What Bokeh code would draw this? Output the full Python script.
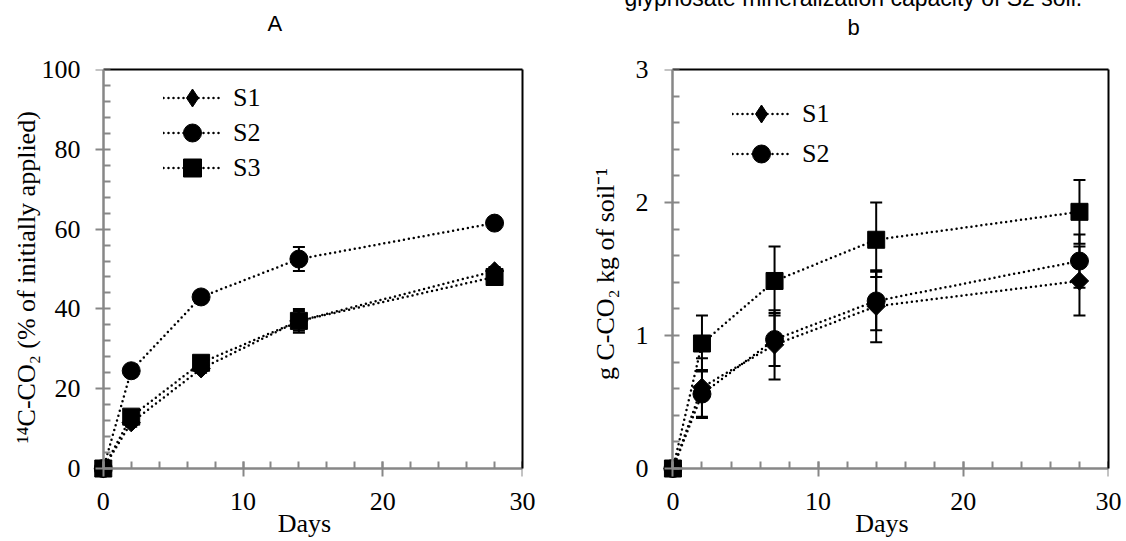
import numpy as np
from bokeh.plotting import figure
from bokeh.models import (ColumnDataSource, Whisker, TeeHead, LinearAxis, Title,
                          SingleIntervalTicker, FixedTicker, Range1d, Legend, LegendItem,
                          CustomJSTickFormatter)
from bokeh.layouts import row
from bokeh.embed import file_html
from bokeh.resources import INLINE

# ---------------- data ----------------
days = [0, 2, 7, 14, 28]

# Panel A: 14C-CO2 (% of initially applied)
a_s1 = [0, 11.5, 25.0, 37.0, 49.5]
a_s1_err = [0, 1.0, 1.0, 2.5, 1.0]
a_s2 = [0, 24.5, 43.0, 52.5, 61.5]
a_s2_err = [0, 1.0, 1.0, 3.0, 1.0]
a_s3 = [0, 13.0, 26.5, 37.0, 48.0]
a_s3_err = [0, 1.0, 1.0, 3.0, 1.0]

# Panel b: g C-CO2 kg of soil-1
b_s1 = [0, 0.61, 0.93, 1.22, 1.41]
b_s1_err = [0, 0.22, 0.26, 0.27, 0.26]
b_s2 = [0, 0.56, 0.97, 1.26, 1.56]
b_s2_err = [0, 0.18, 0.20, 0.22, 0.20]
b_s3 = [0, 0.94, 1.41, 1.72, 1.93]
b_s3_err = [0, 0.21, 0.26, 0.28, 0.24]

series_names = ["S1", "S2", "S3"]
title_a = "A"
title_b = "b"
title_b_top = "glyphosate mineralization capacity of S2 soil."

SERIF = "Liberation Serif"
SANS = "Liberation Sans"
AXIS_GRAY = "#878787"
FS = "26px"


def style_axes(p, xint, yint, ytop, ylabel, ytick_standoff, ylabel_standoff):
    # label-only axes at the frame edges
    xa = p.xaxis[0]
    ya = p.yaxis[0]
    xa.ticker = SingleIntervalTicker(interval=xint, num_minor_ticks=5)
    ya.ticker = SingleIntervalTicker(interval=yint, num_minor_ticks=5)
    for ax in (xa, ya):
        ax.axis_line_color = None
        ax.major_tick_line_color = None
        ax.minor_tick_line_color = None
        ax.major_tick_in = 0
        ax.major_tick_out = 0
        ax.minor_tick_in = 0
        ax.minor_tick_out = 0
        ax.major_label_text_font = SERIF
        ax.major_label_text_font_style = "normal"
        ax.major_label_text_font_size = FS
        ax.major_label_text_color = "black"
        ax.axis_label_text_font = SERIF
        ax.axis_label_text_font_size = FS
        ax.axis_label_text_font_style = "normal"
        ax.axis_label_text_color = "black"
    xa.major_label_standoff = 14
    ya.major_label_standoff = ytick_standoff
    xa.axis_label = "Days"
    xa.axis_label_standoff = -4
    ya.axis_label = ylabel
    ya.axis_label_standoff = ylabel_standoff

    # gray axis lines with ticks, crossing at the origin
    blank = CustomJSTickFormatter(code="return ''")
    gx = LinearAxis(ticker=SingleIntervalTicker(interval=xint, num_minor_ticks=5),
                    fixed_location=0, bounds=(0, 30), formatter=blank,
                    major_tick_in=7, major_tick_out=8, minor_tick_in=7, minor_tick_out=0)
    gy = LinearAxis(ticker=SingleIntervalTicker(interval=yint, num_minor_ticks=5),
                    fixed_location=0, bounds=(0, ytop), formatter=blank,
                    major_tick_in=0, major_tick_out=8, minor_tick_in=7, minor_tick_out=0)
    for ax in (gx, gy):
        ax.axis_line_color = AXIS_GRAY
        ax.axis_line_width = 2.5
        ax.major_tick_line_color = AXIS_GRAY
        ax.minor_tick_line_color = AXIS_GRAY
        ax.major_tick_line_width = 2
        ax.minor_tick_line_width = 2
    p.add_layout(gx, "below")
    p.add_layout(gy, "left")

    # black frame lines on top and right
    top = LinearAxis(ticker=FixedTicker(ticks=[]), bounds=(0, 30), formatter=blank,
                     axis_line_color="black", axis_line_width=2,
                     major_tick_out=0, major_tick_in=0, minor_tick_out=0, minor_tick_in=0)
    right = LinearAxis(ticker=FixedTicker(ticks=[]), bounds=(0, ytop), formatter=blank,
                       axis_line_color="black", axis_line_width=2,
                       major_tick_out=0, major_tick_in=0, minor_tick_out=0, minor_tick_in=0)
    p.add_layout(top, "above")
    p.add_layout(right, "right")


def draw_series(p, vals, errs, marker, size, angle=0.0):
    src = ColumnDataSource(dict(x=days, y=vals,
                                up=[v + e for v, e in zip(vals, errs)],
                                lo=[v - e for v, e in zip(vals, errs)]))
    ln = p.line("x", "y", source=src, line_color="black", line_width=2.5,
                line_dash="0 5", line_cap="round")
    w = Whisker(base="x", upper="up", lower="lo", source=src,
                line_color="black", line_width=2,
                upper_head=TeeHead(size=12, line_color="black", line_width=2),
                lower_head=TeeHead(size=12, line_color="black", line_width=2))
    p.add_layout(w)
    sc = p.scatter("x", "y", source=src, marker=marker, size=size, angle=angle,
                   fill_color="black", line_color="black")
    return ln, sc


def make_fig(width, height, borders, x_rng, y_rng):
    l, r, t, b = borders
    p = figure(width=width, height=height, title=None, toolbar_location=None,
               output_backend="svg", x_range=Range1d(*x_rng), y_range=Range1d(*y_rng),
               min_border_left=l, min_border_right=r, min_border_top=t, min_border_bottom=b)
    p.grid.visible = False
    p.outline_line_color = None
    p.background_fill_color = "white"
    p.border_fill_color = "white"
    return p


def add_legend_item(p, label, renderers, loc):
    lg = Legend(items=[LegendItem(label=label, renderers=renderers)], location=loc,
                margin=0, padding=0, spacing=0,
                glyph_width=58, glyph_height=45, label_height=45,
                label_standoff=12, label_text_font=SERIF, label_text_font_size=FS,
                label_text_font_style="normal", label_text_color="black",
                border_line_color=None, background_fill_alpha=0)
    p.add_layout(lg)


markers = [("square", 13, np.pi / 4), ("circle", 18, 0.0), ("square", 17, 0.0)]


def legend_renderers(p, name, ln, sc):
    if name == "S1":
        # legend-only diamond glyph (NaN point, never drawn in the plot area)
        d = p.scatter(x=[np.nan], y=[np.nan], marker="diamond", size=18,
                      fill_color="black", line_color="black")
        return [ln, d]
    return [ln, sc]


def add_title(p, text, n_blank, standoff, offset, size="22px"):
    # trailing blank lines lift the visible text higher inside the top border
    p.add_layout(Title(text="\n".join([text] + [" "] * n_blank), align="left",
                       offset=offset, standoff=standoff,
                       text_font=SANS, text_font_size=size, text_font_style="normal",
                       text_color="black"), "above")


# ---------------- panel A ----------------
pA = make_fig(565, 540, (86, 43, 69, 61), (-1.2, 30), (-2.5, 100))
style_axes(pA, 10, 20, 100, "¹⁴C-CO₂ (%  of initially applied)", 6, -2)
a_vals = [a_s1, a_s2, a_s3]
a_errs = [a_s1_err, a_s2_err, a_s3_err]
legA_y = [358, 323, 288]
for name, v, e, (m, s, ang), ly in zip(series_names, a_vals, a_errs, markers, legA_y):
    ln, sc = draw_series(pA, v, e, m, s, ang)
    add_legend_item(pA, name, legend_renderers(pA, name, ln, sc), (77, ly))
add_title(pA, title_a, 2, -33, 181)

# ---------------- panel b ----------------
pB = make_fig(558, 540, (90, 15, 66, 62), (-1.2, 30), (-0.075, 3))
style_axes(pB, 10, 1, 3, "g C-CO₂ kg of soil⁻¹", 7, 13)
b_vals = [b_s1, b_s2, b_s3]
b_errs = [b_s1_err, b_s2_err, b_s3_err]
legB_y = [342, 302]
for i, (name, v, e, (m, s, ang)) in enumerate(zip(series_names, b_vals, b_errs, markers)):
    ln, sc = draw_series(pB, v, e, m, s, ang)
    if name != "S3":
        add_legend_item(pB, name, legend_renderers(pB, name, ln, sc), (77, legB_y[i]))
add_title(pB, title_b, 2, -41, 192)
add_title(pB, title_b_top, 3, -110, -31, size="23px")

layout = row(pA, pB)
open("out.html", "w").write(file_html(layout, INLINE))
